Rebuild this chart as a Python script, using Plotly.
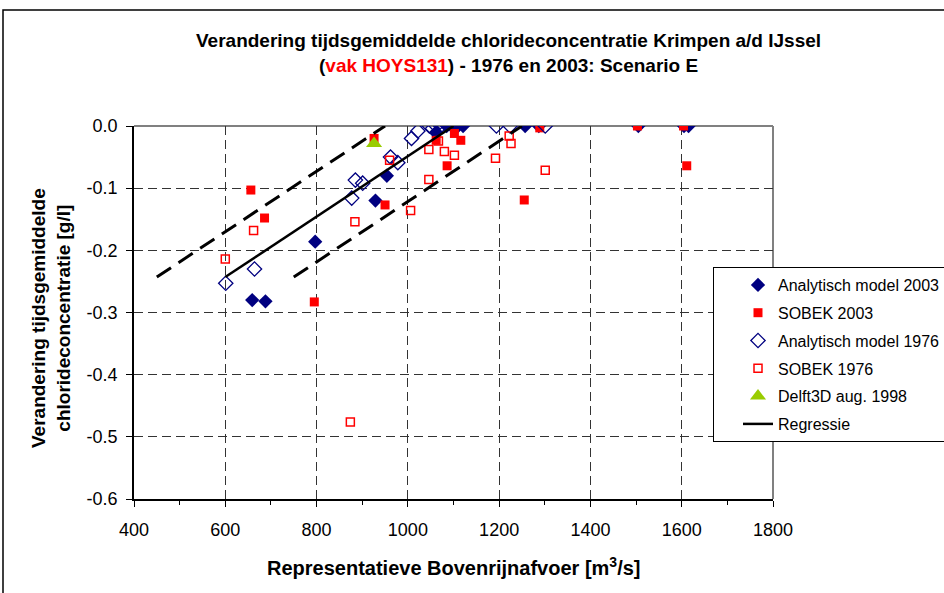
import plotly.graph_objects as go

# ---- data ----
an2003_x = [659, 688, 797, 929, 954, 1062, 1085, 1096, 1110, 1121, 1257, 1287, 1505, 1605, 1615]
an2003_y = [-0.280, -0.282, -0.186, -0.120, -0.080, -0.010, 0, 0, 0, 0, 0, 0, 0, 0, 0]

sob2003_x = [656, 686, 795, 926, 950, 1062, 1086, 1102, 1116, 1255, 1289, 1503, 1604, 1611]
sob2003_y = [-0.103, -0.148, -0.283, -0.020, -0.127, -0.023, -0.064, -0.012, -0.023, -0.119, -0.003, 0, 0, -0.064]

an1976_x = [601, 664, 877, 885, 901, 962, 978, 1008, 1022, 1047, 1054, 1062, 1072, 1194, 1224, 1301]
an1976_y = [-0.253, -0.230, -0.116, -0.087, -0.092, -0.050, -0.059, -0.020, -0.008, 0, -0.004, 0, 0, 0, 0, 0]

sob1976_x = [600, 662, 874, 884, 960, 1006, 1046, 1046, 1067, 1080, 1102, 1192, 1222, 1226, 1301]
sob1976_y = [-0.214, -0.168, -0.476, -0.154, -0.055, -0.136, -0.086, -0.038, -0.024, -0.041, -0.047, -0.052, -0.016, -0.028, -0.071]

delft_x = [926]
delft_y = [-0.028]

reg_x = [600, 1100]
reg_y = [-0.243, 0.0]
upper_x = [450, 950]
upper_y = [-0.243, 0.0]
lower_x = [750, 1250]
lower_y = [-0.243, 0.0]

x_ticks = [400, 600, 800, 1000, 1200, 1400, 1600, 1800]
y_ticks = [0.0, -0.1, -0.2, -0.3, -0.4, -0.5, -0.6]
y_ticktext = ["0.0", "-0.1", "-0.2", "-0.3", "-0.4", "-0.5", "-0.6"]

FONT = "Liberation Sans, Arial, sans-serif"
NAVY = "#000080"
RED = "#FF0000"
GREEN = "#99CC00"

fig = go.Figure()
fig.add_trace(go.Scatter(x=an2003_x, y=an2003_y, mode="markers", name="Analytisch model 2003",
                         legendgroup="a", marker=dict(symbol="diamond", size=11, color=NAVY,
                                                      line=dict(width=0))))
fig.add_trace(go.Scatter(x=sob2003_x, y=sob2003_y, mode="markers", name="SOBEK 2003",
                         legendgroup="b", marker=dict(symbol="square", size=9, color=RED,
                                                      line=dict(width=0))))
fig.add_trace(go.Scatter(x=an1976_x, y=an1976_y, mode="markers", name="Analytisch model 1976",
                         legendgroup="c", marker=dict(symbol="diamond-open", size=11, color=NAVY,
                                                      line=dict(width=1.3, color=NAVY))))
fig.add_trace(go.Scatter(x=sob1976_x, y=sob1976_y, mode="markers", name="SOBEK 1976",
                         legendgroup="d", marker=dict(symbol="square-open", size=8, color=RED,
                                                      line=dict(width=1.5, color=RED))))
fig.add_trace(go.Scatter(x=delft_x, y=delft_y, mode="markers", name="Delft3D aug. 1998",
                         legendgroup="e", marker=dict(symbol="triangle-up", size=14, color=GREEN,
                                                      line=dict(width=0))))
fig.add_trace(go.Scatter(x=reg_x, y=reg_y, mode="lines", name="Regressie", legendgroup="f",
                         line=dict(color="black", width=2.5)))
fig.add_trace(go.Scatter(x=upper_x, y=upper_y, mode="lines", showlegend=False,
                         line=dict(color="black", width=3, dash="17px,9px")))
fig.add_trace(go.Scatter(x=lower_x, y=lower_y, mode="lines", showlegend=False,
                         line=dict(color="black", width=3, dash="17px,9px")))

L, R, T, B = 134, 773, 126, 499
W, H = 944, 593
pw, ph = R - L, B - T

def px_x(p):
    return (p - L) / pw

def px_y(p):
    return (B - p) / ph

fig.update_layout(
    width=W, height=H,
    margin=dict(l=L, r=W - R, t=T, b=H - B, pad=0, autoexpand=False),
    paper_bgcolor="white", plot_bgcolor="white",
    font=dict(family=FONT, size=18, color="black"),
    showlegend=True,
    legend=dict(x=px_x(713), y=px_y(267), xanchor="left", yanchor="top",
                bordercolor="black", borderwidth=1, bgcolor="white",
                font=dict(family=FONT, size=16, color="black"),
                traceorder="grouped", tracegroupgap=4, indentation=24,
                itemwidth=30),
)

fig.update_xaxes(range=[400, 1800], tickvals=x_ticks, ticks="outside", ticklen=6,
                 tickcolor="black", tickwidth=1, showline=True, linecolor="black", linewidth=1.5,
                 showgrid=True, gridcolor="#333333", gridwidth=1, griddash="9px,5px",
                 tickfont=dict(family=FONT, size=18), ticklabelstandoff=8,
                 minor=dict(dtick=100, tick0=400, ticks="outside", ticklen=4, tickcolor="black",
                            showgrid=False),
                 zeroline=False, fixedrange=True)
fig.update_yaxes(range=[-0.6, 0.0], tickvals=y_ticks, ticktext=y_ticktext, ticks="outside",
                 ticklen=6, tickcolor="black", tickwidth=1, showline=True, linecolor="black",
                 linewidth=1.5, showgrid=True, gridcolor="#333333", gridwidth=1, griddash="9px,5px",
                 tickfont=dict(family=FONT, size=18), ticklabelstandoff=5,
                 zeroline=False, fixedrange=True)

# plot-area border (gray) top/right
fig.add_shape(type="line", xref="paper", yref="paper", x0=0, x1=1, y0=1, y1=1,
              line=dict(color="#808080", width=2), layer="between")
fig.add_shape(type="line", xref="paper", yref="paper", x0=1, x1=1, y0=0, y1=1,
              line=dict(color="#808080", width=2), layer="between")
# outer chart border
fig.add_shape(type="rect", xref="paper", yref="paper",
              x0=px_x(3), x1=px_x(960), y0=px_y(10), y1=px_y(610),
              line=dict(color="black", width=1.5), fillcolor="rgba(0,0,0,0)", layer="above")

# titles
fig.add_annotation(xref="paper", yref="paper", x=px_x(508), y=px_y(40), xanchor="center",
                   yanchor="middle", showarrow=False,
                   text="<b>Verandering tijdsgemiddelde chlorideconcentratie Krimpen a/d IJssel</b>",
                   font=dict(family=FONT, size=19, color="black"))
fig.add_annotation(xref="paper", yref="paper", x=px_x(508), y=px_y(66), xanchor="center",
                   yanchor="middle", showarrow=False,
                   text="<b>(<span style='color:#FF0000'>vak HOYS131</span>) - 1976 en 2003: Scenario E</b>",
                   font=dict(family=FONT, size=19, color="black"))
fig.add_annotation(xref="paper", yref="paper", x=px_x(453), y=px_y(566), xanchor="center",
                   yanchor="middle", showarrow=False,
                   text="<b>Representatieve Bovenrijnafvoer [m<sup>3</sup>/s]</b>",
                   font=dict(family=FONT, size=20, color="black"))
fig.add_annotation(xref="paper", yref="paper", x=px_x(51), y=px_y(318), xanchor="center",
                   yanchor="middle", showarrow=False, textangle=-90,
                   text="<b>Verandering tijdsgemiddelde<br>chlorideconcentratie [g/l]</b>",
                   font=dict(family=FONT, size=19, color="black"))

fig.write_html("out.html")
